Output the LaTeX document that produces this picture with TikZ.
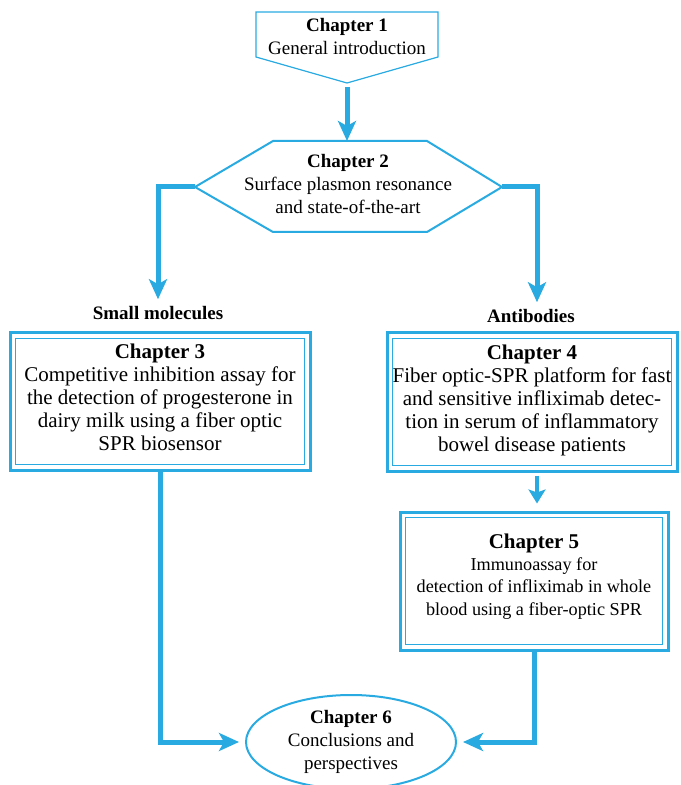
\documentclass[tikz,border=0pt]{standalone}
\usepackage{fontspec}
\setmainfont{Liberation Serif}
\usetikzlibrary{shapes.geometric,arrows.meta}
\definecolor{sky}{RGB}{41,171,226}

\begin{document}
\begin{tikzpicture}[x=0.5pt, y=-0.5pt,
  main/.style = {align=center, font=\fontsize{9.5}{11.5}\selectfont},
  box/.style = {draw=sky, line width=1.5pt, align=center, inner sep=0pt, text depth=4pt, font=\fontsize{10.5}{11.5}\selectfont},
  link/.style = {sky, line width=2.5pt, -{Stealth[length=10pt, width=9pt, inset=2.5pt]}},
  thin link/.style = {sky, line width=2pt, -{Stealth[length=7pt, width=8.5pt, inset=1.5pt]}}]
	\useasboundingbox (0,0) rectangle (680,785);
	\draw[sky, line width=0.6pt] (256,12) -- (438,12) -- (438,57) -- (347,83) coordinate (t1) -- (256,57) -- cycle;
	\node[main] (1) at (347,37) {\textbf{Chapter 1}\\General introduction};
	\draw[sky, line width=1pt] (273,141) -- (427,141) -- (502,187) coordinate (r2) -- (427,232) -- (273,232) -- (195,187) coordinate (l2) -- cycle;
	\coordinate (t2) at (347,141);
	\node[main] (2) at (348,184) {\textbf{Chapter 2}\\Surface plasmon resonance\\and state-of-the-art};
	\draw[link, shorten <=2pt] (t1) -- (t2);
	\node[main, font=\fontsize{9.5}{11.5}\selectfont\bfseries] (small) at (158,313) {Small molecules};
	\draw[link] (l2) -| (small);
	\node[main, font=\fontsize{9.5}{11.5}\selectfont\bfseries] (anti) at (531,316) {Antibodies};
	\draw[link] (r2) -| ([xshift=3pt]anti.north);
	\node[box, minimum width=150pt, minimum height=68.5pt] (3) at (160,401.5) {\textbf{Chapter 3}\\Competitive inhibition assay for\\the detection of progesterone in\\dairy milk using a fiber optic\\SPR biosensor};
	\node[box, minimum width=145pt, minimum height=69pt] (4) at (532,402) {\textbf{Chapter 4}\\Fiber optic-SPR platform for fast\\and sensitive infliximab detec-\\tion in serum of inflammatory\\bowel disease patients};
	\node[box, minimum width=134pt, minimum height=69pt, text depth=6.5pt, font=\fontsize{9.1}{11.1}\selectfont] (5) at (534,581) {\fontsize{10.5}{11.1}\selectfont\textbf{Chapter 5}\\Immunoassay for\\detection of infliximab in whole\\blood using a fiber-optic SPR};
	\draw[thin link, shorten <=1.5pt, shorten >=3.5pt] ([xshift=2.5pt]4.south) -- ([xshift=1.5pt]5.north);
	\foreach \n in {3,4,5}
		\draw[sky, line width=0.7pt] ([shift={(7,7)}]\n.north west) rectangle ([shift={(-7,-7)}]\n.south east);
	\node[main, draw=sky, line width=1pt, ellipse, inner sep=0pt, minimum width=105pt, minimum height=47pt] (6) at (351,742) {\textbf{Chapter 6}\\Conclusions and\\perspectives};
	\draw[link, shorten >=3pt] (3) |- (6);
	\draw[link, shorten >=3pt] (5) |- (6);
\end{tikzpicture}
\end{document}
